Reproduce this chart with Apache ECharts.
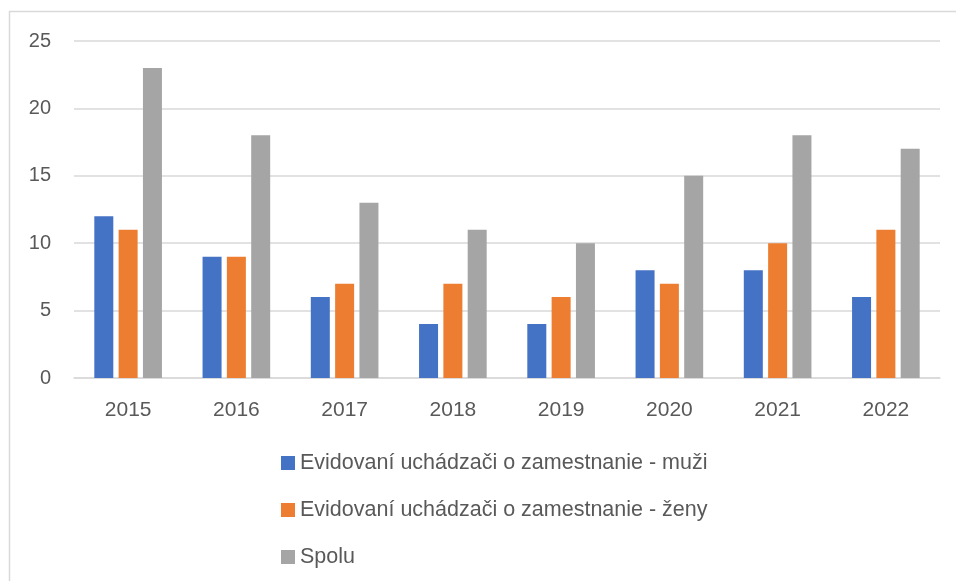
<!DOCTYPE html>
<html>
<head>
<meta charset="utf-8">
<script src="https://cdn.jsdelivr.net/npm/echarts@6/dist/echarts.min.js"></script>
<style>
  html, body { margin: 0; padding: 0; background: #fff; }
  #chart { width: 956px; height: 581px; }
</style>
</head>
<body>
<div id="chart"></div>
<script>
// roky
const years = ['2015', '2016', '2017', '2018', '2019', '2020', '2021', '2022']
// hodnoty sérií
const muzi = [12, 9, 6, 4, 4, 8, 8, 6]
const zeny = [11, 9, 7, 7, 6, 7, 10, 11]
const spolu = [23, 18, 13, 11, 10, 15, 18, 17]
const seriesNames = [
  'Evidovaní uchádzači o zamestnanie - muži',
  'Evidovaní uchádzači o zamestnanie - ženy',
  'Spolu'
]

const font = '"Liberation Sans", "DejaVu Sans", sans-serif'
const textColor = '#595959'
const lineColor = '#d9d9d9'

const makeBar = (name, data, color) => ({
  name,
  type: 'bar',
  data,
  barWidth: 19,
  barGap: '28%',
  itemStyle: { color },
  emphasis: { disabled: true }
})

const chart = echarts.init(document.getElementById('chart'))
chart.setOption({
  animation: false,
  textStyle: { fontFamily: font },
  grid: { left: 74, right: 16, top: 41, bottom: 203, containLabel: false },
  xAxis: {
    type: 'category',
    data: years,
    axisLine: { lineStyle: { color: lineColor, width: 1.5 } },
    axisTick: { show: false },
    axisLabel: { color: textColor, fontSize: 21, margin: 22, fontFamily: font }
  },
  yAxis: {
    type: 'value',
    min: 0,
    max: 25,
    interval: 5,
    axisLine: { show: false },
    axisTick: { show: false },
    splitLine: { lineStyle: { color: lineColor, width: 1.5 } },
    axisLabel: { color: textColor, fontSize: 20, margin: 23, fontFamily: font }
  },
  legend: {
    orient: 'vertical',
    left: 281,
    top: 452,
    padding: 0,
    itemWidth: 14,
    itemHeight: 14,
    itemGap: 25,
    icon: 'rect',
    textStyle: { color: textColor, fontSize: 21.5, lineHeight: 21, fontFamily: font },
    data: seriesNames
  },
  graphic: [{
    type: 'rect',
    shape: { x: 9.5, y: 11.5, width: 960, height: 600 },
    style: { fill: null, stroke: lineColor, lineWidth: 1.5 },
    silent: true
  }],
  series: [
    makeBar(seriesNames[0], muzi, '#4472c4'),
    makeBar(seriesNames[1], zeny, '#ed7d31'),
    makeBar(seriesNames[2], spolu, '#a5a5a5')
  ]
})
</script>
</body>
</html>
